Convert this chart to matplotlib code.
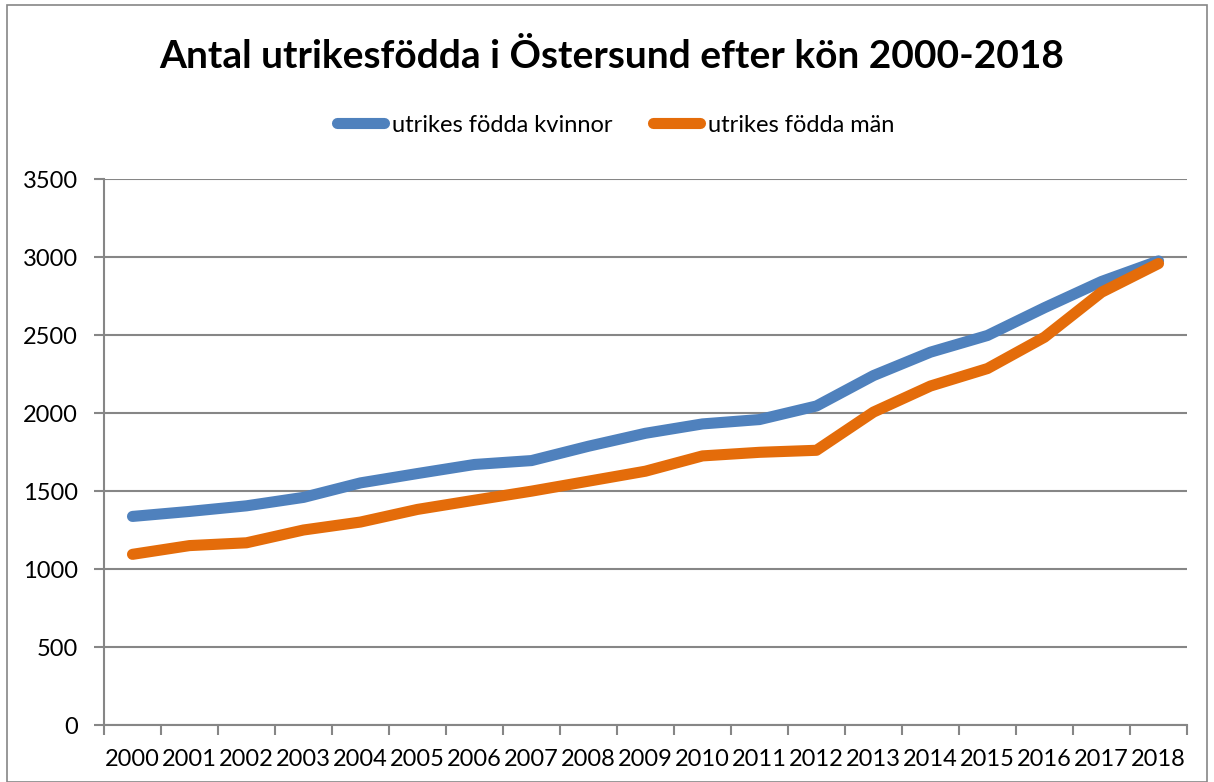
import numpy as np
import matplotlib
matplotlib.use("Agg")
import matplotlib.pyplot as plt
from matplotlib.patches import Rectangle

plt.rcParams['font.family'] = ['Lato', 'DejaVu Sans']

years = [str(y) for y in range(2000, 2019)]
kvinnor = [1337, 1369, 1405, 1459, 1552, 1612, 1670, 1695, 1787, 1870, 1930, 1958, 2045,
           2240, 2390, 2497, 2675, 2843, 2975]
man = [1094, 1150, 1168, 1250, 1301, 1382, 1441, 1499, 1563, 1627, 1725, 1748, 1761,
       2006, 2173, 2285, 2486, 2774, 2958]

fig = plt.figure(figsize=(12.14, 7.82), dpi=100)
ax = fig.add_axes([104/1214, 1 - 725/782, (1187-104)/1214, (725-179)/782])

x = np.arange(len(years))
ax.plot(x, kvinnor, color='#4F81BD', lw=8, solid_capstyle='round', solid_joinstyle='round',
        label='utrikes födda kvinnor')
ax.plot(x, man, color='#E46C0A', lw=8, solid_capstyle='round', solid_joinstyle='round',
        label='utrikes födda män')

ax.set_xlim(-0.5, len(years) - 0.5)
ax.set_ylim(0, 3500)
ax.set_yticks(range(0, 3501, 500))
ax.set_xticks(x)
ax.set_xticklabels(years)
ax.set_xticks(np.arange(-0.5, len(years)), minor=True)
ax.tick_params(axis='x', which='major', length=0, pad=17, labelsize=17)
ax.tick_params(axis='x', which='minor', length=7, color='#868686', width=1.5)
ax.tick_params(axis='y', length=7, color='#868686', width=1.5, labelsize=17, pad=12)
ax.grid(axis='y', color='#868686', lw=1.5)
ax.set_axisbelow(True)
for s in ['top', 'right']:
    ax.spines[s].set_visible(False)
for s in ['left', 'bottom']:
    ax.spines[s].set_color('#868686')
    ax.spines[s].set_linewidth(1.5)

fig.text(0.504, 1 - 56/782, 'Antal utrikesfödda i Östersund efter kön 2000-2018',
         ha='center', va='center', fontsize=28, fontweight='bold')
fig.legend(loc='center', bbox_to_anchor=(0.507, 1 - 125/782), ncol=2, frameon=False,
           fontsize=17, handlelength=2.0, handletextpad=0.35, columnspacing=1.7)

fig.patches.append(Rectangle((7/1214, 0), 1 - 14/1214, 1 - 5/782, transform=fig.transFigure,
                             fill=False, edgecolor='#868686', lw=1.2))

fig.savefig('out.png', dpi=100)
